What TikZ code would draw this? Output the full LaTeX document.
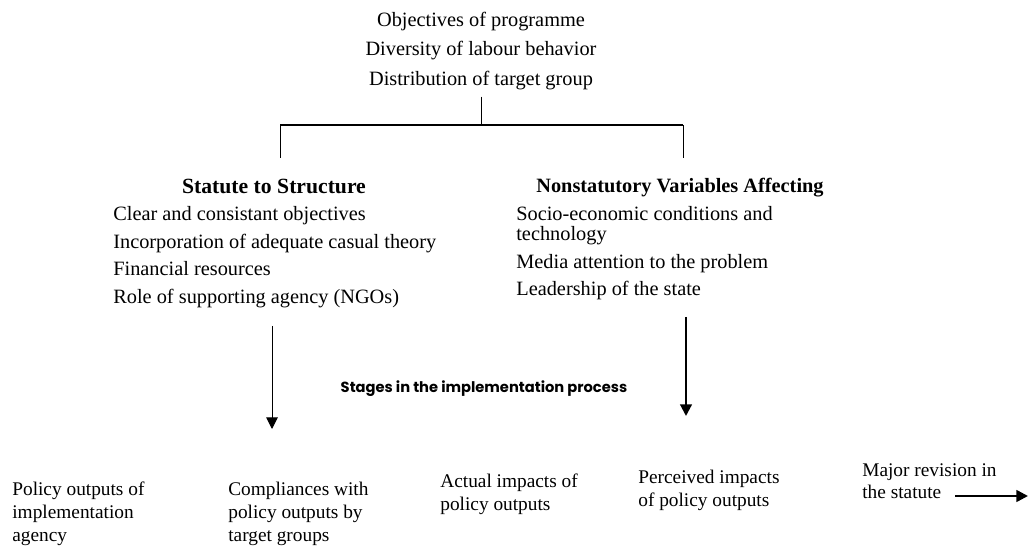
\documentclass[tikz,border=0pt]{standalone}
\usepackage{fontspec}
\setmainfont{Liberation Serif}
\newfontfamily\stagefont{Poppins}
\usetikzlibrary{arrows.meta,positioning}

\begin{document}
\begin{tikzpicture}[x=0.6pt,y=-0.6pt,>={Triangle[width=7pt,length=7pt]},
  every node/.style={inner sep=0pt},
  txt/.style={font=\fontsize{12.2}{16.6}\selectfont,align=left,anchor=north west},
  head/.style={font=\fontsize{12.2}{14}\selectfont\bfseries},
  stg/.style={font=\fontsize{11.6}{13.6}\selectfont,align=left,anchor=north west}]

\useasboundingbox (0,0) rectangle (1028,548);

\node[align=center,anchor=north,font=\fontsize{12.2}{17.6}\selectfont] (obj) at (481,12)
  {Objectives of programme\\Diversity of labour behavior\\Distribution of target group};

\coordinate (fork) at (481,125);
\coordinate (lc) at (280,125);
\coordinate (rc) at (683,125);
\draw[line width=0.6pt] ([yshift=-4pt]obj.south) -- (fork);
\draw[line width=1.3pt] (lc) -- (rc);
\draw[line width=0.6pt] (lc) -- ++(0,33);
\draw[line width=0.6pt] (rc) -- ++(0,33);

\node[head,font=\fontsize{13}{14}\selectfont\bfseries] (sts) at (274,186) {Statute to Structure};
\node[head] (nsv) at (680,188) {Nonstatutory Variables Affecting};

\node[txt] (sts_l) at (113,206) {Clear and consistant objectives\\
  Incorporation of adequate casual theory\\Financial resources\\
  Role of supporting agency (NGOs)};
\node[txt] (nsv_l) at (516,206) {Socio-economic conditions and\\[-4.5pt]
  technology\\Media attention to the problem\\Leadership of the state};

\coordinate (sts_a) at (272,326);
\coordinate (sts_b) at (272,429);
\coordinate (nsv_a) at (686,317);
\coordinate (nsv_b) at (686,416);
\draw[->,line width=0.6pt] (sts_a) -- (sts_b);
\draw[->,line width=1.3pt] (nsv_a) -- (nsv_b);

\node[font=\stagefont\fontsize{8.8}{10}\selectfont\bfseries] (stages) at (484,389)
  {Stages in the implementation process};

\node[stg] (st_1) at (12,482) {Policy outputs of\\implementation\\agency};
\node[stg] (st_2) at (228,482) {Compliances with\\policy outputs by\\target groups};
\node[stg] (st_3) at (440,474) {Actual impacts of\\policy outputs};
\node[stg] (st_4) at (638,470) {Perceived impacts\\of policy outputs};
\node[stg] (st_5) at (862,463) {Major revision in\\the statute};

\coordinate (rev_a) at (955,496);
\coordinate (rev_b) at (1028,496);
\draw[->,line width=1.5pt] (rev_a) -- (rev_b);

\end{tikzpicture}
\end{document}
